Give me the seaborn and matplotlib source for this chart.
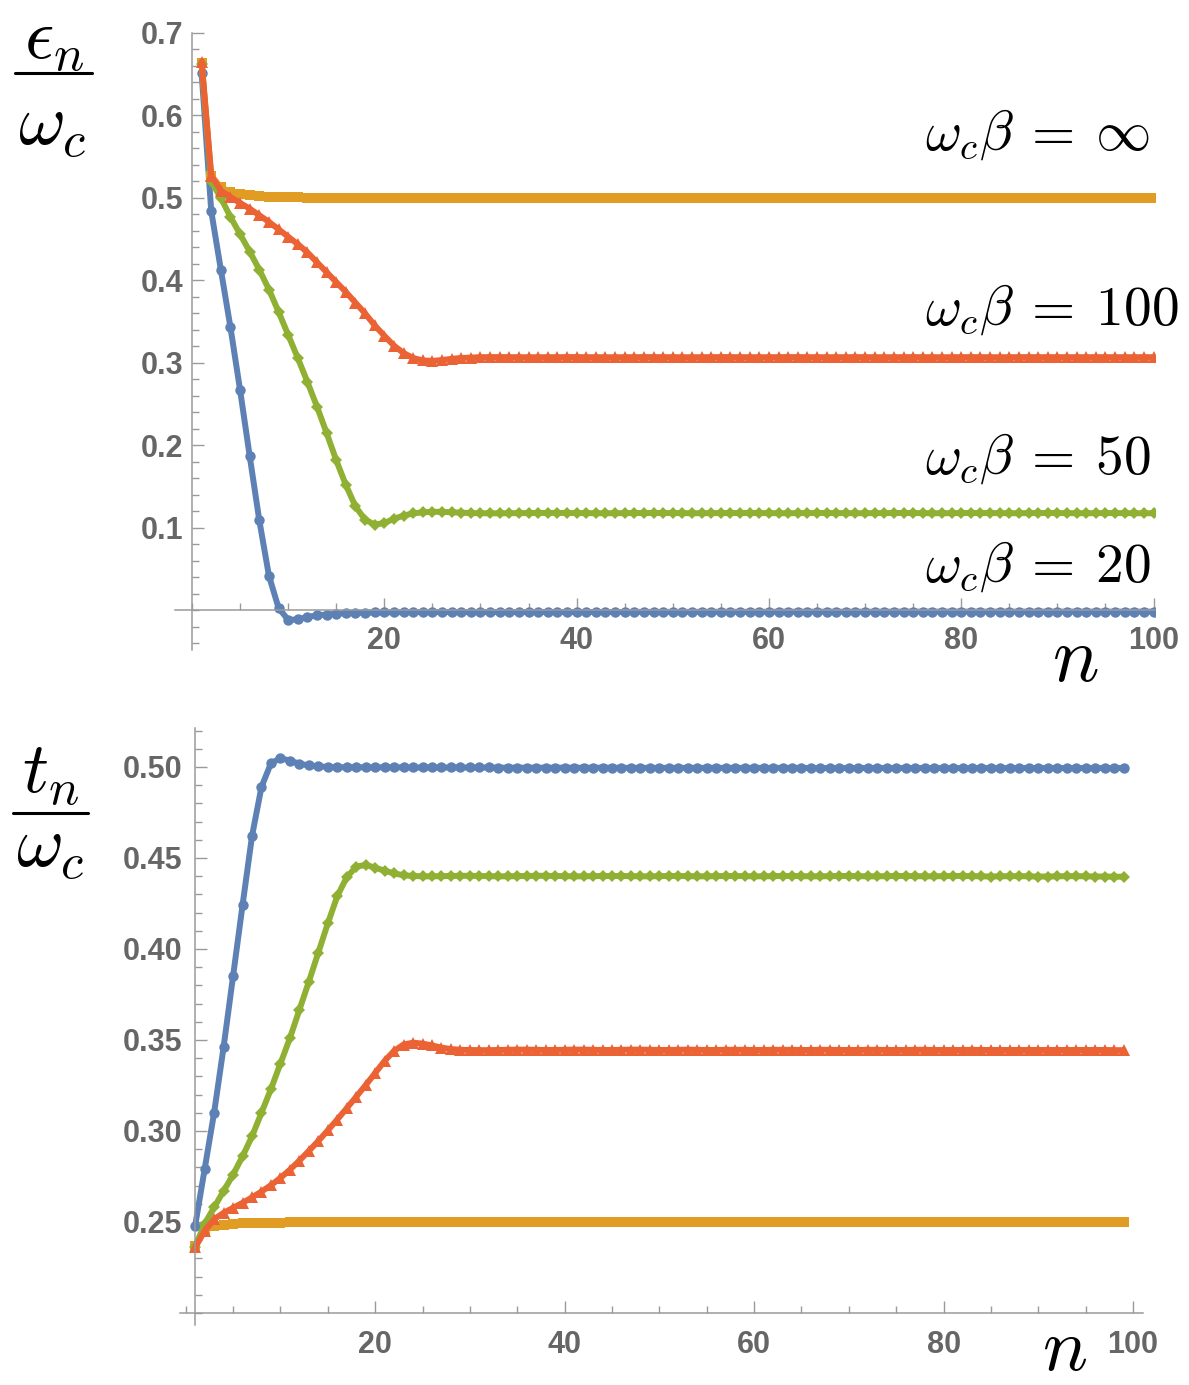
import matplotlib
matplotlib.use('Agg')
import matplotlib.pyplot as plt
import seaborn as sns
from matplotlib.ticker import MultipleLocator
from matplotlib.lines import Line2D

# data
n_top = list(range(1, 101))
n_bot = list(range(1, 100))

# epsilon_n / omega_c
eps_20 = [0.651, 0.484, 0.413, 0.343, 0.267, 0.187, 0.109, 0.042, 0.003, -0.0115,
          -0.011, -0.008, -0.006, -0.005, -0.004, -0.0035, -0.003, -0.003, -0.0025, -0.0025,
          -0.0022, -0.0022, -0.002, -0.002, -0.002, -0.002, -0.002, -0.002, -0.002, -0.002,
          -0.002, -0.002, -0.002, -0.002, -0.002, -0.002, -0.002, -0.002, -0.002, -0.002,
          -0.0019, -0.0019, -0.0019, -0.0019, -0.0019, -0.0018, -0.0018, -0.0018, -0.0018, -0.0018,
          -0.0018, -0.0018, -0.0017, -0.0017, -0.0017, -0.0017, -0.0017, -0.0017, -0.0017, -0.0017,
          -0.0016, -0.0016, -0.0016, -0.0016, -0.0016, -0.0016, -0.0016, -0.0016, -0.0016, -0.0016,
          -0.0016, -0.0016, -0.0015, -0.0015, -0.0015, -0.0015, -0.0015, -0.0015, -0.0015, -0.0015,
          -0.0015, -0.0015, -0.0015, -0.0015, -0.0015, -0.0015, -0.0015, -0.0015, -0.0015, -0.0015,
          -0.0015, -0.0015, -0.0015, -0.0015, -0.0015, -0.0015, -0.0015, -0.0015, -0.0015, -0.0015]
eps_inf = [0.664, 0.527, 0.513, 0.507, 0.5045, 0.503, 0.502, 0.5015, 0.501, 0.5008,
           0.5006, 0.5005, 0.5004, 0.5003, 0.5002, 0.5001, 0.5001, 0.5001, 0.5001, 0.5,
           0.5, 0.5, 0.5, 0.5, 0.5, 0.5, 0.5, 0.5, 0.5, 0.5,
           0.5, 0.5, 0.5, 0.5, 0.5, 0.5, 0.5, 0.5, 0.5, 0.5,
           0.5, 0.5, 0.5, 0.5, 0.5, 0.5, 0.5, 0.5, 0.5, 0.5,
           0.5, 0.5, 0.5, 0.5, 0.5, 0.5, 0.5, 0.5, 0.5, 0.5,
           0.5, 0.5, 0.5, 0.5, 0.5, 0.5, 0.5, 0.5, 0.5, 0.5,
           0.5, 0.5, 0.5, 0.5, 0.5, 0.5, 0.5, 0.5, 0.5, 0.5,
           0.5, 0.5, 0.5, 0.5, 0.5, 0.5, 0.5, 0.5, 0.5, 0.5,
           0.5, 0.5, 0.5, 0.5, 0.5, 0.5, 0.5, 0.5, 0.5, 0.5]
eps_50 = [0.663, 0.520, 0.500, 0.477, 0.456, 0.435, 0.413, 0.389, 0.362, 0.334,
          0.306, 0.277, 0.247, 0.215, 0.182, 0.152, 0.126, 0.110, 0.104, 0.106,
          0.111, 0.115, 0.1175, 0.119, 0.1195, 0.1195, 0.119, 0.1185, 0.118, 0.1178,
          0.1177, 0.1177, 0.1178, 0.1179, 0.118, 0.1181, 0.1182, 0.1182, 0.1181, 0.118,
          0.1179, 0.1178, 0.1178, 0.1178, 0.1179, 0.118, 0.1181, 0.1181, 0.1181, 0.118,
          0.1179, 0.1178, 0.1178, 0.1179, 0.118, 0.118, 0.1181, 0.1181, 0.118, 0.1179,
          0.1178, 0.1178, 0.1179, 0.118, 0.1181, 0.1181, 0.118, 0.1179, 0.1178, 0.1178,
          0.1179, 0.118, 0.1181, 0.1181, 0.118, 0.1179, 0.1178, 0.1178, 0.1179, 0.118,
          0.1181, 0.1181, 0.118, 0.1179, 0.1178, 0.1178, 0.1179, 0.118, 0.1181, 0.118,
          0.1179, 0.1178, 0.1178, 0.1179, 0.118, 0.118, 0.1179, 0.1178, 0.1178, 0.1178]
eps_100 = [0.665, 0.527, 0.509, 0.501, 0.494, 0.487, 0.479, 0.471, 0.462, 0.453,
           0.444, 0.434, 0.422, 0.410, 0.398, 0.386, 0.373, 0.360, 0.3455, 0.333,
           0.321, 0.312, 0.306, 0.303, 0.3025, 0.3035, 0.305, 0.306, 0.3065, 0.307,
           0.3071, 0.3071, 0.307, 0.307, 0.3069, 0.3069, 0.307, 0.307, 0.3071, 0.3071,
           0.307, 0.307, 0.3069, 0.3069, 0.307, 0.307, 0.3071, 0.3071, 0.307, 0.307,
           0.3069, 0.3069, 0.307, 0.307, 0.3071, 0.3071, 0.307, 0.307, 0.3069, 0.307,
           0.307, 0.3071, 0.3071, 0.307, 0.307, 0.3069, 0.307, 0.307, 0.3071, 0.307,
           0.307, 0.3069, 0.307, 0.307, 0.3071, 0.307, 0.307, 0.3069, 0.307, 0.307,
           0.3071, 0.307, 0.307, 0.3069, 0.307, 0.307, 0.3071, 0.307, 0.307, 0.307,
           0.307, 0.307, 0.307, 0.307, 0.307, 0.307, 0.307, 0.307, 0.307, 0.307]

# t_n / omega_c
t_20 = [0.248, 0.279, 0.310, 0.346, 0.385, 0.424, 0.462, 0.489, 0.502, 0.5048,
        0.5035, 0.5018, 0.5008, 0.5003, 0.5, 0.4999, 0.4998, 0.4998, 0.4998, 0.4998,
        0.4998, 0.4998, 0.4998, 0.4997, 0.4997, 0.4997, 0.4997, 0.4997, 0.4997, 0.4997,
        0.4997, 0.4997, 0.4996, 0.4996, 0.4996, 0.4996, 0.4996, 0.4996, 0.4996, 0.4996,
        0.4996, 0.4996, 0.4996, 0.4996, 0.4996, 0.4995, 0.4995, 0.4995, 0.4995, 0.4995,
        0.4995, 0.4995, 0.4995, 0.4995, 0.4995, 0.4995, 0.4995, 0.4995, 0.4995, 0.4995,
        0.4995, 0.4995, 0.4995, 0.4995, 0.4995, 0.4994, 0.4994, 0.4994, 0.4994, 0.4994,
        0.4994, 0.4994, 0.4994, 0.4994, 0.4994, 0.4994, 0.4994, 0.4994, 0.4994, 0.4994,
        0.4994, 0.4994, 0.4994, 0.4994, 0.4994, 0.4994, 0.4994, 0.4994, 0.4994, 0.4994,
        0.4994, 0.4994, 0.4994, 0.4994, 0.4994, 0.4994, 0.4994, 0.4994, 0.4994]
t_inf = [0.237, 0.2455, 0.2478, 0.2486, 0.249, 0.2492, 0.2494, 0.2495, 0.2496, 0.2497,
         0.2498, 0.2498, 0.2498, 0.2498, 0.2498, 0.2499, 0.2499, 0.2499, 0.2499, 0.2499,
         0.25, 0.25, 0.25, 0.25, 0.25, 0.25, 0.25, 0.25, 0.25, 0.25,
         0.25, 0.25, 0.25, 0.25, 0.25, 0.25, 0.25, 0.25, 0.25, 0.25,
         0.25, 0.25, 0.25, 0.25, 0.25, 0.25, 0.25, 0.25, 0.25, 0.25,
         0.25, 0.25, 0.25, 0.25, 0.25, 0.25, 0.25, 0.25, 0.25, 0.25,
         0.25, 0.25, 0.25, 0.25, 0.25, 0.25, 0.25, 0.25, 0.25, 0.25,
         0.25, 0.25, 0.25, 0.25, 0.25, 0.25, 0.25, 0.25, 0.25, 0.25,
         0.25, 0.25, 0.25, 0.25, 0.25, 0.25, 0.25, 0.25, 0.25, 0.25,
         0.25, 0.25, 0.25, 0.25, 0.25, 0.25, 0.25, 0.25, 0.25]
t_50 = [0.2365, 0.249, 0.258, 0.267, 0.276, 0.286, 0.297, 0.310, 0.323, 0.337,
        0.351, 0.3665, 0.382, 0.398, 0.414, 0.429, 0.4394, 0.4452, 0.4462, 0.4447,
        0.443, 0.4415, 0.4405, 0.4401, 0.4399, 0.4399, 0.44, 0.4401, 0.4402, 0.4402,
        0.4401, 0.44, 0.4399, 0.4399, 0.44, 0.4401, 0.4402, 0.4402, 0.4401, 0.44,
        0.4399, 0.4399, 0.44, 0.4401, 0.4401, 0.4401, 0.44, 0.4399, 0.4399, 0.44,
        0.4401, 0.4401, 0.44, 0.4399, 0.4399, 0.44, 0.4401, 0.4401, 0.44, 0.4399,
        0.4399, 0.44, 0.4401, 0.4401, 0.44, 0.4399, 0.4399, 0.44, 0.4401, 0.4401,
        0.44, 0.4399, 0.4399, 0.44, 0.4401, 0.4401, 0.44, 0.4399, 0.4399, 0.44,
        0.4401, 0.4401, 0.44, 0.4399, 0.4398, 0.4399, 0.44, 0.44, 0.4399, 0.4398,
        0.4398, 0.4399, 0.44, 0.44, 0.4399, 0.4398, 0.4398, 0.4397, 0.4397]
t_100 = [0.236, 0.245, 0.2515, 0.255, 0.2578, 0.2605, 0.2635, 0.2667, 0.2702, 0.2742,
         0.2787, 0.2837, 0.289, 0.2945, 0.3003, 0.3063, 0.3125, 0.3188, 0.3252, 0.3318,
         0.3385, 0.344, 0.3475, 0.3485, 0.348, 0.347, 0.3458, 0.345, 0.3446, 0.3445,
         0.3444, 0.3444, 0.3445, 0.3446, 0.3447, 0.3447, 0.3446, 0.3445, 0.3445, 0.3446,
         0.3447, 0.3447, 0.3446, 0.3445, 0.3445, 0.3446, 0.3447, 0.3447, 0.3446, 0.3445,
         0.3445, 0.3446, 0.3447, 0.3446, 0.3445, 0.3445, 0.3446, 0.3446, 0.3446, 0.3445,
         0.3445, 0.3446, 0.3446, 0.3446, 0.3445, 0.3445, 0.3446, 0.3446, 0.3445, 0.3445,
         0.3445, 0.3446, 0.3446, 0.3445, 0.3445, 0.3445, 0.3446, 0.3446, 0.3445, 0.3445,
         0.3445, 0.3445, 0.3446, 0.3445, 0.3445, 0.3445, 0.3445, 0.3445, 0.3445, 0.3445,
         0.3445, 0.3445, 0.3445, 0.3445, 0.3445, 0.3445, 0.3445, 0.3444, 0.3444]

beta_labels = [r'$\omega_c\beta\:=\:\infty$', r'$\omega_c\beta\:=\:100$',
               r'$\omega_c\beta\:=\:50$', r'$\omega_c\beta\:=\:20$']

# mathematica default colours
blue, orange, green, red = '#5E81B5', '#E19C24', '#8FB032', '#EB6235'
axis_col = '#9a9a9a'
lab_col = '#666666'

sns.set_theme(style='white')
plt.rcParams['font.family'] = ['Liberation Sans', 'DejaVu Sans']
plt.rcParams['mathtext.fontset'] = 'cm'

W, H = 1189, 1385
fig = plt.figure(figsize=(W / 100, H / 100), dpi=100)


def box(l, t, r, b):
    return [l / W, 1 - b / H, (r - l) / W, (b - t) / H]


ax1 = fig.add_axes(box(175, 33, 1155, 650))
ax2 = fig.add_axes(box(180, 728, 1143, 1325))

series_top = [(eps_20, blue, 'o', 7.5), (eps_inf, orange, 's', 6.5),
              (eps_50, green, 'D', 6), (eps_100, red, '^', 8.5)]
series_bot = [(t_20, blue, 'o', 7.5), (t_inf, orange, 's', 6.5),
              (t_50, green, 'D', 6), (t_100, red, '^', 8.5)]

for vals, c, m, ms in series_top:
    sns.lineplot(x=n_top, y=vals, ax=ax1, color=c, lw=4.3, marker=m,
                 markersize=ms, markeredgewidth=0, legend=False)
for vals, c, m, ms in series_bot:
    sns.lineplot(x=n_bot, y=vals, ax=ax2, color=c, lw=4.3, marker=m,
                 markersize=ms, markeredgewidth=0, legend=False)

# axes through the origin, mathematica style
ax1.set_xlim(-1.77, 100.15)
ax1.set_ylim(-0.048, 0.7)
ax2.set_xlim(-0.6, 101.05)
ax2.set_ylim(0.1934, 0.5214)

for ax, x0, y0 in [(ax1, 0, 0), (ax2, 1, 0.2)]:
    ax.spines['left'].set_position(('data', x0))
    ax.spines['bottom'].set_position(('data', y0))
    ax.spines['top'].set_visible(False)
    ax.spines['right'].set_visible(False)
    for s in ['left', 'bottom']:
        ax.spines[s].set_color(axis_col)
        ax.spines[s].set_linewidth(1.1)
    ax.set_xlabel('')
    ax.set_ylabel('')
    ax.patch.set_alpha(0)
    ax.xaxis.set_minor_locator(MultipleLocator(5))
    ax.tick_params(which='both', direction='in', color=axis_col, width=1.0,
                   bottom=True, left=True)
    ax.tick_params(which='major', length=8.5)
    ax.tick_params(which='minor', length=5)

xt = [20, 40, 60, 80, 100]
ax1.set_xticks(xt, labels=[str(v) for v in xt], fontweight='bold',
               color=lab_col, fontsize=22)
ax2.set_xticks(xt, labels=[str(v) for v in xt], fontweight='bold',
               color=lab_col, fontsize=22)
yt1 = [0.1, 0.2, 0.3, 0.4, 0.5, 0.6, 0.7]
ax1.set_yticks(yt1, labels=[f'{v:.1f}' for v in yt1], fontweight='bold',
               color=lab_col, fontsize=22)
ax1.yaxis.set_minor_locator(MultipleLocator(0.02))
yt2 = [0.25, 0.30, 0.35, 0.40, 0.45, 0.50]
ax2.set_yticks(yt2, labels=[f'{v:.2f}' for v in yt2], fontweight='bold',
               color=lab_col, fontsize=22)
ax2.yaxis.set_minor_locator(MultipleLocator(0.01))
ax1.tick_params(axis='x', pad=11)
ax1.tick_params(axis='y', pad=6)
ax2.tick_params(axis='x', pad=12)
ax2.tick_params(axis='y', pad=9)


def ftext(x, y, s, size, **kw):
    fig.text(x / W, 1 - y / H, s, fontsize=size, color='black', **kw)


# beta labels on the right
for s, y in zip(beta_labels, [135, 310, 459, 567]):
    ftext(925, y, s, 40, ha='left', va='center')

# axis labels (fractions)
ftext(54, 40, r'$\epsilon_n$', 52, ha='center', va='center')
ftext(52, 126, r'$\omega_c$', 52, ha='center', va='center')
fig.add_artist(Line2D([15 / W, 92 / W], [1 - 73 / H, 1 - 73 / H], color='black', lw=2.2))
ftext(51, 775, r'$t_n$', 52, ha='center', va='center')
ftext(50, 848, r'$\omega_c$', 52, ha='center', va='center')
fig.add_artist(Line2D([13 / W, 88 / W], [1 - 813 / H, 1 - 813 / H], color='black', lw=2.2))
ftext(1075, 681, r'$n$', 56, ha='center', va='baseline')
ftext(1065, 1370, r'$n$', 54, ha='center', va='baseline')

fig.savefig('out.png', dpi=100)
